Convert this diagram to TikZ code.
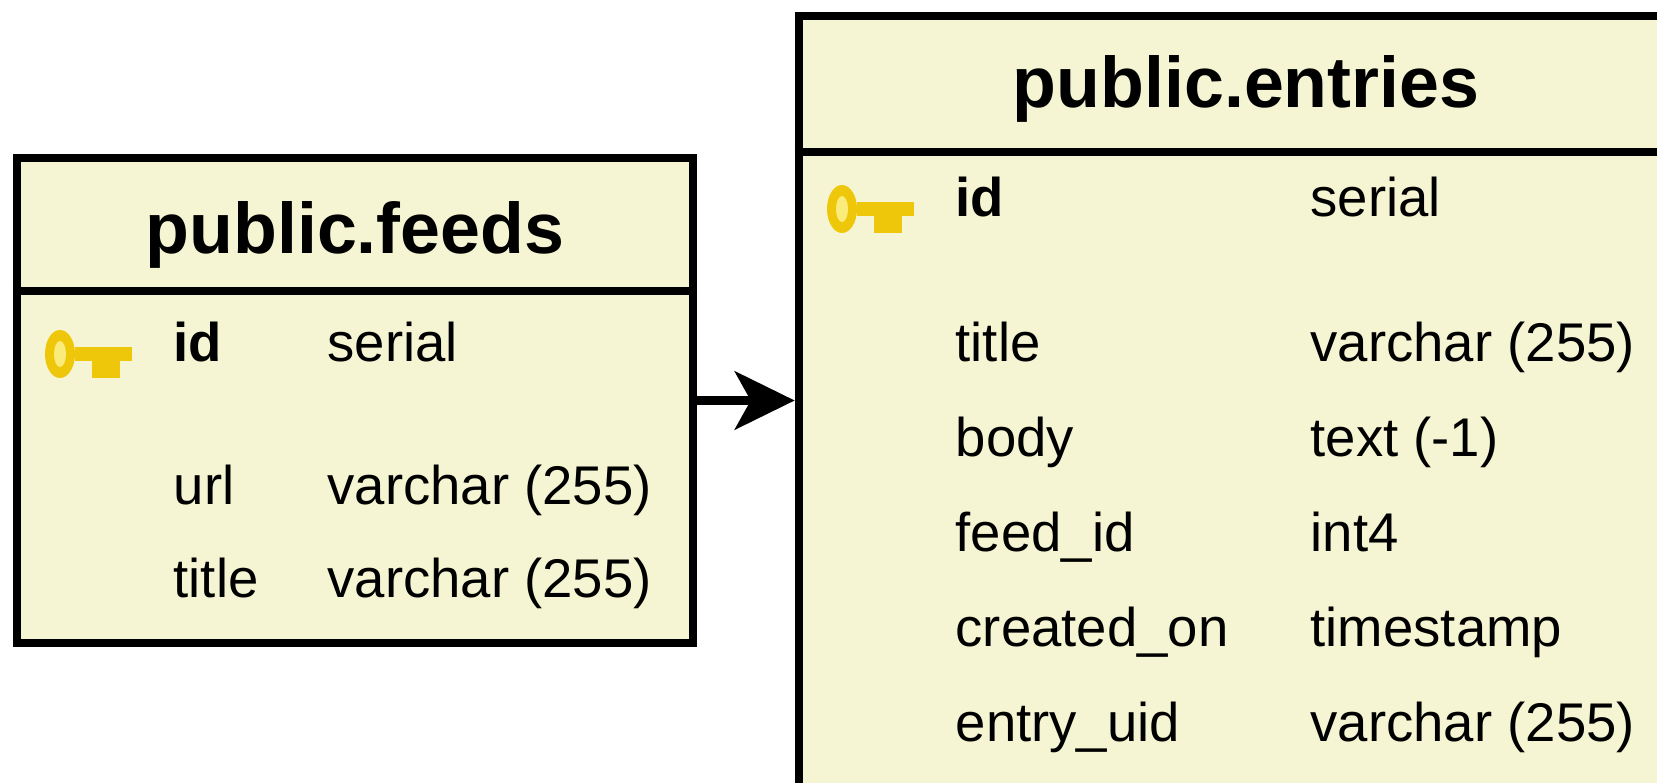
\documentclass[tikz,border=0pt]{standalone}
\usepackage{fontspec}
\setmainfont{Liberation Sans}
\usepackage{tikz}
\usepackage{xcolor}
\usetikzlibrary{arrows.meta}
\definecolor{tablefill}{HTML}{F5F5D3}
\definecolor{keygold}{HTML}{EFC70A}
\definecolor{keylight}{HTML}{FBEB7A}
\tikzset{
    table-box/.style = {draw=black, fill=tablefill, line width=2.3pt, rectangle, inner sep=0pt},
    table-title/.style = {font=\fontsize{20.4}{24}\selectfont\bfseries, inner sep=0pt, anchor=base},
    table-sep/.style = {draw=black, line width=2.3pt},
    field/.style = {font=\fontsize{15.5}{18}\selectfont, inner sep=0pt, anchor=base west},
    pk-field/.style = {field, font=\fontsize{15.5}{18}\selectfont\bfseries},
    fk-arrow/.style = {draw=black, line width=2.6pt, -{Stealth[length=17pt 0, width=16.5pt 0, inset=4.5pt 0]}},
    pk-key/.pic = {
        \fill[keygold] (30,-7) rectangle (87,7);
        \fill[keygold] (47,7) rectangle (75,24);
        \fill[keygold] (15,0) ellipse [x radius=15, y radius=24];
        \fill[keylight] (15,0) ellipse [x radius=6, y radius=13];
    },
}
\begin{document}
\begin{tikzpicture}[x=0.01cm, y=-0.01cm]
\useasboundingbox (0,0) rectangle (1657,783);
\clip (0,0) rectangle (1657,783);
% tables
\node [table-box, minimum width=6.76cm, minimum height=4.85cm] (feeds) at (355,400.5) {};
\node [table-box, minimum width=8.94cm, minimum height=7.72cm] (entries) at (1246,402) {};
\draw [table-sep] (feeds.west |- 0,291) -- (feeds.east |- 0,291);
\draw [table-sep] (entries.west |- 0,152) -- (entries.east |- 0,152);
\node [table-title] (feeds-title) at (355,254) {public.feeds};
\node [table-title] (entries-title) at (1246,108) {public.entries};
% public.feeds
\pic at (45,354) {pk-key};
\node [pk-field] (feeds-id) at (173,362) {id};
\node [field] (feeds-id-type) at (327,362) {serial};
\node [field] (feeds-url) at (173,505) {url};
\node [field] (feeds-url-type) at (327,505) {varchar (255)};
\node [field] (feeds-title) at (173,598) {title};
\node [field] (feeds-title-type) at (327,598) {varchar (255)};
% public.entries
\pic at (827,209) {pk-key};
\node [pk-field] (entries-id) at (955,217) {id};
\node [field] (entries-id-type) at (1310,217) {serial};
\node [field] (entries-title) at (955,362) {title};
\node [field] (entries-title-type) at (1310,362) {varchar (255)};
\node [field] (entries-body) at (955,457) {body};
\node [field] (entries-body-type) at (1310,457) {text (-1)};
\node [field] (entries-feed) at (955,552) {feed\_id};
\node [field] (entries-feed-type) at (1310,552) {int4};
\node [field] (entries-created) at (955,647) {created\_on};
\node [field] (entries-created-type) at (1310,647) {timestamp};
\node [field] (entries-uid) at (955,742) {entry\_uid};
\node [field] (entries-uid-type) at (1310,742) {varchar (255)};
% foreign key
\draw [fk-arrow] (feeds.east) -- (feeds.east -| entries.west);
\end{tikzpicture}
\end{document}
